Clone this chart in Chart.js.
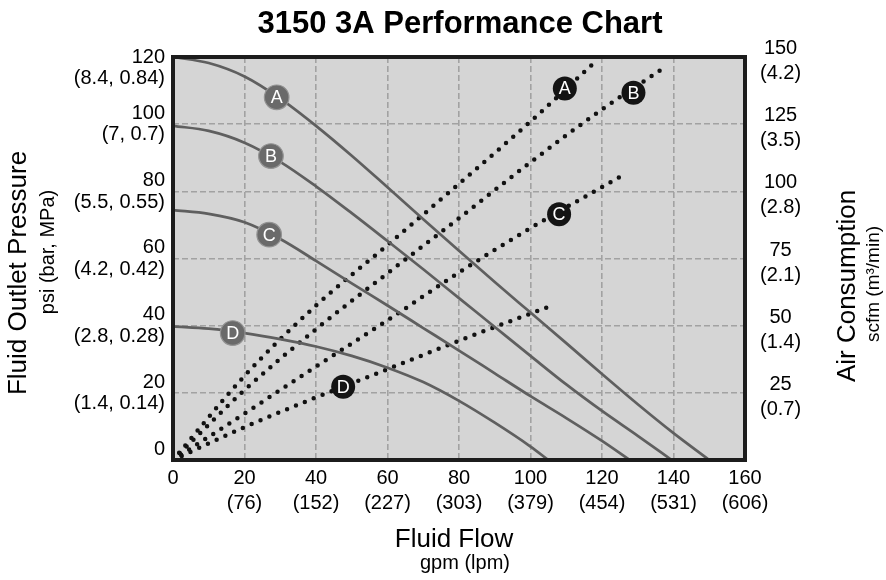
<!DOCTYPE html>
<html>
<head>
<meta charset="utf-8">
<style>
  html, body { margin: 0; padding: 0; background: #ffffff; }
  #wrap { width: 886px; height: 580px; }
</style>
<script src="https://cdn.jsdelivr.net/npm/chart.js@4.4.1/dist/chart.umd.min.js"></script>
</head>
<body>
<div id="wrap"><canvas id="c" width="886" height="580"></canvas></div>
<script>
// ---------- texts ----------
const chartTitle = "3150 3A Performance Chart";
const xTitle = "Fluid Flow";
const xSubTitle = "gpm (lpm)";
const yTitle = "Fluid Outlet Pressure";
const ySubTitle = "psi (bar, MPa)";
const y2Title = "Air Consumption";
const y2SubTitle = "scfm (m\u00B3/min)";

// ---------- tick labels ----------
const xTickValues = [0, 20, 40, 60, 80, 100, 120, 140, 160];
const xTickLpm    = ["", "(76)", "(152)", "(227)", "(303)", "(379)", "(454)", "(531)", "(606)"];
const yTickValues = [0, 20, 40, 60, 80, 100, 120];
const yTickBarMpa = ["", "(1.4, 0.14)", "(2.8, 0.28)", "(4.2, 0.42)", "(5.5, 0.55)", "(7, 0.7)", "(8.4, 0.84)"];
const y2TickValues = [0, 25, 50, 75, 100, 125, 150];
const y2TickM3     = ["", "(0.7)", "(1.4)", "(2.1)", "(2.8)", "(3.5)", "(4.2)"];

// ---------- fluid pressure curves (gpm -> psi) ----------
const flowA  = [0, 10, 20, 30, 40, 50, 60, 70, 80, 90, 100, 110, 120, 130, 140, 150];
const pressA = [120, 118.2, 114.2, 107.6, 99.5, 90.6, 81.2, 71.7, 62.3, 53, 43.9, 34.8, 25.6, 16.6, 8, 0];
const flowB  = [0, 10, 20, 30, 40, 50, 60, 70, 80, 90, 100, 110, 120, 130, 139.5];
const pressB = [99.5, 98, 94.5, 88.8, 81.5, 73.5, 65.2, 56.8, 48.2, 39.6, 31, 22.5, 14.6, 7.2, 0];
const flowC  = [0, 10, 20, 30, 40, 50, 60, 70, 80, 90, 100, 110, 120, 127.8];
const pressC = [74.4, 73.3, 70.8, 65.8, 59.3, 52.6, 46, 39.3, 32.6, 25.8, 19, 12.5, 5.7, 0];
const flowD  = [0, 10, 20, 30, 40, 50, 60, 70, 80, 90, 100, 105];
const pressD = [39.8, 39.1, 37.8, 36, 33.8, 31, 27.5, 23.2, 17.6, 11.1, 4, 0];

// ---------- air consumption curves (gpm -> scfm) ----------
const airFlowA = [0, 20, 40, 60, 80, 100, 117.6];
const airA     = [0, 31.3, 57.5, 80, 102.8, 126, 147.6];
const airFlowB = [0, 20, 40, 60, 80, 100, 120, 136.7];
const airB     = [0, 26, 48.7, 69.5, 90, 110.8, 130.5, 145.4];
const airFlowC = [0, 20, 40, 60, 80, 100, 125];
const airC     = [0, 17.3, 34.8, 52, 69.8, 86.3, 105.4];
const airFlowD = [0, 20, 40, 60, 80, 105];
const airD     = [0, 12.2, 23.3, 33.8, 44.4, 57];

// ---------- curve label positions ----------
const labelNames = ["A", "B", "C", "D"];
const pressLabelFlow = [29, 27.4, 26.9, 16.7];
const pressLabelPsi  = [108, 90.5, 67.1, 37.8];
const airLabelFlow   = [109.6, 128.8, 108, 47.6];
const airLabelScfm   = [138.3, 136.7, 91.5, 27.3];

// ---------- styles ----------
const FONT = "'Liberation Sans', Arial, Helvetica, sans-serif";
const plotBg = "#d5d5d5";
const gridColor = "#a2a2a2";
const solidColor = "#5f5f5f";
const dotColor = "#111111";

function pts(xs, ys) { return xs.map((v, i) => ({ x: v, y: ys[i] })); }

function solidSet(xs, ys) {
  return {
    data: pts(xs, ys), yAxisID: 'y', borderColor: solidColor, borderWidth: 2.7,
    pointRadius: 0, cubicInterpolationMode: 'monotone', fill: false
  };
}
function dotSet(xs, ys) {
  return {
    data: pts(xs, ys), yAxisID: 'y2', borderColor: dotColor, borderWidth: 4.5,
    borderDash: [0, 9.6], borderCapStyle: 'round', pointRadius: 0,
    cubicInterpolationMode: 'monotone', fill: false
  };
}

function rotText(ctx, text, x, y, font) {
  ctx.save();
  ctx.translate(x, y);
  ctx.rotate(-Math.PI / 2);
  ctx.font = font;
  ctx.textAlign = 'center';
  ctx.textBaseline = 'alphabetic';
  ctx.fillText(text, 0, 0);
  ctx.restore();
}

const framePlugin = {
  id: 'frame',
  beforeDraw(chart) {
    const { ctx, chartArea: a } = chart;
    ctx.save();
    ctx.fillStyle = plotBg;
    ctx.fillRect(a.left, a.top, a.right - a.left, a.bottom - a.top);
    ctx.restore();
  },
  afterDatasetsDraw(chart) {
    const { ctx, chartArea: a, scales } = chart;
    const x = scales.x, y = scales.y, y2 = scales.y2;
    ctx.save();
    // border
    ctx.strokeStyle = "#1c1c1c";
    ctx.lineWidth = 4;
    ctx.strokeRect(a.left, a.top, a.right - a.left, a.bottom - a.top);
    // curve labels
    ctx.textAlign = 'center';
    ctx.textBaseline = 'middle';
    ctx.font = "18px " + FONT;
    for (let i = 0; i < labelNames.length; i++) {
      let cx = x.getPixelForValue(pressLabelFlow[i]);
      let cy = y.getPixelForValue(pressLabelPsi[i]);
      ctx.beginPath(); ctx.arc(cx, cy, 12.3, 0, Math.PI * 2);
      ctx.fillStyle = "#6a6a6a"; ctx.fill();
      ctx.lineWidth = 1.2; ctx.strokeStyle = "#939393"; ctx.stroke();
      ctx.fillStyle = "#ffffff"; ctx.fillText(labelNames[i], cx, cy + 1);
      cx = x.getPixelForValue(airLabelFlow[i]);
      cy = y2.getPixelForValue(airLabelScfm[i]);
      ctx.beginPath(); ctx.arc(cx, cy, 12, 0, Math.PI * 2);
      ctx.fillStyle = "#141414"; ctx.fill();
      ctx.fillStyle = "#ffffff"; ctx.fillText(labelNames[i], cx, cy + 1);
    }
    ctx.restore();
  },
  afterDraw(chart) {
    const { ctx } = chart;
    ctx.save();
    ctx.fillStyle = "#000000";
    ctx.textAlign = 'center';
    ctx.textBaseline = 'alphabetic';
    ctx.font = "bold 31px " + FONT;
    ctx.fillText(chartTitle, 460, 33);
    ctx.font = "26px " + FONT;
    ctx.fillText(xTitle, 454, 547);
    ctx.font = "20px " + FONT;
    ctx.fillText(xSubTitle, 465, 569);
    rotText(ctx, yTitle, 26, 273, "26px " + FONT);
    rotText(ctx, ySubTitle, 54, 252, "20px " + FONT);
    rotText(ctx, y2Title, 855, 286, "26px " + FONT);
    rotText(ctx, y2SubTitle, 879, 284, "19px " + FONT);
    ctx.restore();
  }
};

Chart.defaults.font.family = FONT;
Chart.defaults.color = "#000000";

new Chart(document.getElementById('c'), {
  type: 'line',
  data: {
    datasets: [
      solidSet(flowA, pressA), solidSet(flowB, pressB), solidSet(flowC, pressC), solidSet(flowD, pressD),
      dotSet(airFlowA, airA), dotSet(airFlowB, airB), dotSet(airFlowC, airC), dotSet(airFlowD, airD)
    ]
  },
  options: {
    responsive: false,
    animation: false,
    devicePixelRatio: 1,
    layout: { padding: { top: 57, left: 0, right: 0, bottom: 0 } },
    plugins: { legend: { display: false }, title: { display: false }, tooltip: { enabled: false } },
    scales: {
      x: {
        type: 'linear', min: 0, max: 160,
        afterFit(s) { s.height = 120; },
        afterBuildTicks(s) { s.ticks = xTickValues.map(v => ({ value: v })); },
        ticks: {
          padding: 6, maxRotation: 0, autoSkip: false,
          font: { size: 20, lineHeight: 1.25 },
          callback(v) { const i = xTickValues.indexOf(v); return i > 0 ? [String(v), xTickLpm[i]] : String(v); }
        },
        grid: { color: gridColor, lineWidth: 1.6, drawTicks: false },
        border: { display: false, dash: [6, 3] }
      },
      y: {
        type: 'linear', position: 'left', min: 0, max: 120,
        afterFit(s) { s.width = 173; },
        afterBuildTicks(s) { s.ticks = yTickValues.map(v => ({ value: v })); },
        ticks: {
          padding: 8, crossAlign: 'near', autoSkip: false,
          font: { size: 20, lineHeight: 1.08 },
          callback(v) {
            const i = yTickValues.indexOf(v);
            return i === yTickValues.length - 1 ? ["", String(v), yTickBarMpa[i]] : [String(v), yTickBarMpa[i]];
          }
        },
        grid: { color: gridColor, lineWidth: 1.6, drawTicks: false },
        border: { display: false, dash: [6, 3] }
      },
      y2: {
        type: 'linear', position: 'right', min: 0, max: 150,
        afterFit(s) { s.width = 141; },
        afterBuildTicks(s) { s.ticks = y2TickValues.map(v => ({ value: v })); },
        ticks: {
          padding: 15, crossAlign: 'center', autoSkip: false, labelOffset: 4,
          font: { size: 20, lineHeight: 1.25 },
          callback(v) { const i = y2TickValues.indexOf(v); return i > 0 ? [String(v), y2TickM3[i]] : ""; }
        },
        grid: { display: false, drawTicks: false },
        border: { display: false }
      }
    }
  },
  plugins: [framePlugin]
});
</script>
</body>
</html>
